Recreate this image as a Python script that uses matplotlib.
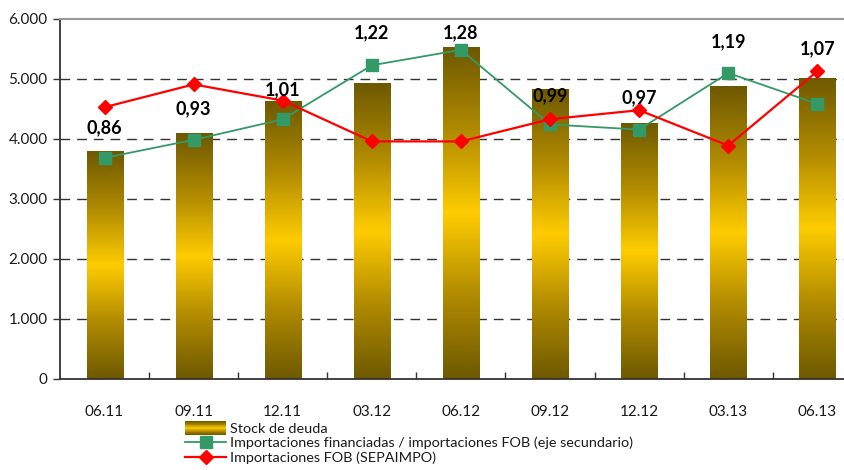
import numpy as np
import matplotlib
matplotlib.use("Agg")
import matplotlib.pyplot as plt
from matplotlib.colors import LinearSegmentedColormap
from matplotlib.legend_handler import HandlerBase
from matplotlib.patches import Rectangle
from matplotlib.lines import Line2D
from matplotlib.ticker import FuncFormatter, FixedLocator

plt.rcParams['font.family'] = ['Lato', 'DejaVu Sans']

categories = ["06.11", "09.11", "12.11", "03.12", "06.12", "09.12", "12.12", "03.13", "06.13"]
stock_deuda = [3800, 4100, 4630, 4930, 5530, 4830, 4270, 4880, 5020]
ratio_financiadas = [0.86, 0.93, 1.01, 1.22, 1.28, 0.99, 0.97, 1.19, 1.07]
importaciones_fob = [4530, 4910, 4640, 3960, 3960, 4330, 4480, 3890, 5130]
ratio_labels = ["0,86", "0,93", "1,01", "1,22", "1,28", "0,99", "0,97", "1,19", "1,07"]

label_offsets_px = [30, 31, 30, 33, 17, 29, 32, 31, 55]

dark = '#6e5900'
gold = '#ffcc00'
cmap = LinearSegmentedColormap.from_list('gold', [dark, '#b08a00', gold, '#b08a00', dark])

fig = plt.figure(figsize=(8.45, 4.70), dpi=100)
W, H = 845, 470
left_px, top_px, bottom_px = 60, 19, 379
step = 89.1
right_px = left_px + 9 * step
ax = fig.add_axes([left_px / W, 1 - bottom_px / H, (right_px - left_px) / W, (bottom_px - top_px) / H])

x = np.arange(len(categories))
bars = ax.bar(x, stock_deuda, width=0.405, color='none', edgecolor='none', zorder=2)
grad = np.linspace(0, 1, 256).reshape(-1, 1)
for b in bars:
    x0, y0 = b.get_x(), b.get_y()
    w, h = b.get_width(), b.get_height()
    im = ax.imshow(grad, cmap=cmap, origin='lower', aspect='auto',
                   extent=(x0, x0 + w, y0, y0 + h), zorder=2)
    im.set_clip_path(b)
ax.set_xlim(-0.5, 8.5)
ax.set_ylim(0, 6000)

for yv in [1000, 2000, 3000, 4000, 5000]:
    ax.axhline(yv, color='#333333', lw=1.0, dashes=(7, 5), zorder=1)

ax2 = ax.twinx()
ax2.set_ylim(0, 1.4)
ax2.set_xlim(-0.5, 8.5)
ax2.axis('off')
ax.set_zorder(1)
ax2.set_zorder(2)

ax2.plot(x, ratio_financiadas, color='#339966', lw=1.3, marker='s', ms=8,
         markerfacecolor='#339966', markeredgecolor='#339966', zorder=3)
ax2.plot(x, importaciones_fob, color='#ff0000', lw=1.6, marker='D', ms=7,
         markerfacecolor='#ff0000', markeredgecolor='#ff0000', zorder=4,
         transform=ax.transData)

for xi, r, lab, off in zip(x, ratio_financiadas, ratio_labels, label_offsets_px):
    ax2.annotate(lab, (xi, r), xytext=(0, off * 72 / 100), textcoords='offset points',
                 ha='center', va='center', fontsize=13, fontweight='bold', color='black', zorder=5)

ax.spines['right'].set_visible(False)
ax.spines['top'].set_color('#999999')
ax.spines['top'].set_linewidth(1.5)
ax.spines['left'].set_color('#333333')
ax.spines['left'].set_linewidth(1.3)
ax.spines['bottom'].set_color('#333333')
ax.spines['bottom'].set_linewidth(1.3)

ax.set_yticks([0, 1000, 2000, 3000, 4000, 5000, 6000])
ax.yaxis.set_major_formatter(FuncFormatter(lambda v, p: f"{int(v):,}".replace(",", ".")))
ax.tick_params(axis='y', direction='out', length=5, width=1, color='#333333',
               labelsize=11, labelcolor='#1a1a1a', pad=4)
ax.set_xticks(x)
ax.set_xticklabels(categories)
ax.tick_params(axis='x', which='major', length=0, labelsize=11, labelcolor='#1a1a1a', pad=19)
ax.xaxis.set_minor_locator(FixedLocator(np.arange(0.5, 8.5, 1.0)))
ax.tick_params(axis='x', which='minor', direction='in', length=5, width=1, color='#333333')


class GradientHandler(HandlerBase):
    def create_artists(self, legend, orig_handle, xdescent, ydescent, width, height, fontsize, trans):
        n = 30
        arts = []
        y0 = -ydescent - height * 0.15
        hh = height * 1.3
        for i in range(n):
            r = Rectangle((-xdescent, y0 + hh * i / n), width, hh / n + 0.05,
                          facecolor=cmap((i + 0.5) / n), edgecolor='none', transform=trans)
            arts.append(r)
        return arts


h_bar = Rectangle((0, 0), 1, 1)
h_green = Line2D([], [], color='#339966', lw=1.3, marker='s', ms=8, markerfacecolor='#339966',
                 markeredgecolor='#339966')
h_red = Line2D([], [], color='#ff0000', lw=1.6, marker='D', ms=7, markerfacecolor='#ff0000',
               markeredgecolor='#ff0000')
leg = fig.legend([h_bar, h_green, h_red],
                 ["Stock de deuda",
                  "Importaciones financiadas / importaciones FOB (eje secundario)",
                  "Importaciones FOB (SEPAIMPO)"],
                 handler_map={Rectangle: GradientHandler()},
                 loc='upper left', bbox_to_anchor=(185 / W, 1 - 423 / H),
                 frameon=False, fontsize=10.4, handlelength=2.85, handletextpad=0.3,
                 labelspacing=0.12, borderpad=0, borderaxespad=0, numpoints=1)
for t in leg.get_texts():
    t.set_color('#1a1a1a')

fig.savefig('out.png', dpi=100)
